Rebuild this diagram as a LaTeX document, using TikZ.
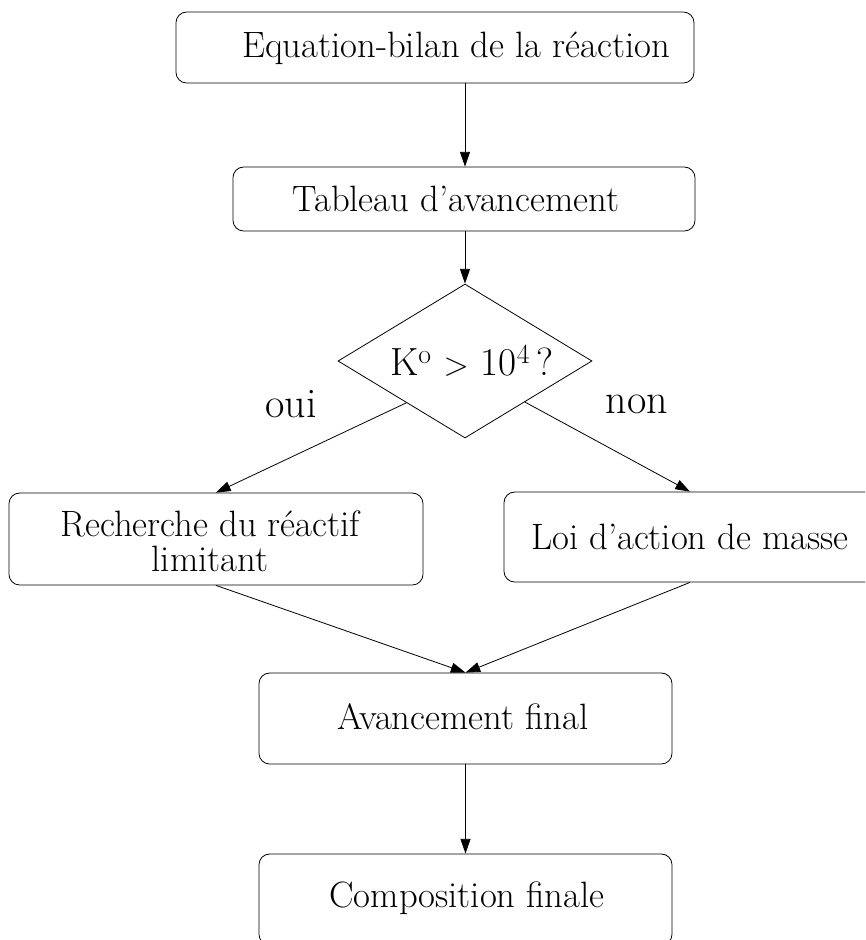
\documentclass[tikz,border=0pt]{standalone}
\usetikzlibrary{arrows.meta,shapes.geometric,calc}
\begin{document}
\begin{tikzpicture}[x=0.75pt,y=-0.75pt,
  boxshape/.style={draw,line width=0.6pt,rounded corners=8pt,inner sep=0pt},
  txt/.style={font=\fontsize{27.5}{26}\selectfont,align=center,inner sep=0pt},
  lbl/.style={font=\fontsize{31.5}{32}\selectfont,inner sep=0pt},
  arr/.style={line width=0.6pt,-{Triangle[length=11pt,width=7.5pt]}}]
\useasboundingbox (0,0) rectangle (865,940);
\clip (0,0) rectangle (865,940);
% boxes
\node[boxshape,minimum width=388.5pt,minimum height=53.25pt] (b1) at (435,47.5) {};
\node[boxshape,minimum width=346.5pt,minimum height=48pt] (b2) at (464,199) {};
\node[draw,line width=0.6pt,diamond,minimum width=190.5pt,minimum height=115.5pt,inner sep=0pt] (dia) at (465,361) {};
\node[boxshape,minimum width=310.5pt,minimum height=69pt] (b3) at (216,539) {};
\node[boxshape,minimum width=279pt,minimum height=67.5pt] (b4) at (690,537) {};
\node[boxshape,minimum width=309.75pt,minimum height=68.25pt] (b5) at (465.5,718.5) {};
\node[boxshape,minimum width=309.75pt,minimum height=68.25pt] (b6) at (465.5,899.5) {};
% texts
\node[txt] (t1) at (456,48) {Equation-bilan de la réaction};
\node[txt] (t2) at (456,199) {Tableau d'avancement};
\node[txt] (t3) at (210,541) {Recherche du réactif\\limitant};
\node[txt] (t4) at (690,537) {Loi d'action de masse};
\node[txt] (t5) at (463,717) {Avancement final};
\node[txt] (t6) at (467,898) {Composition finale};
\node[txt,font=\fontsize{29.5}{30}\selectfont] (td) at (472,361) {K$^{\mathrm{o}}$ $>$ 10$^{4}$\,?};
\node[lbl] (oui) at (291,404) {oui};
\node[lbl] (non) at (637,404) {non};
% connectors
\coordinate (dl) at ($(dia.west)!0.54!(dia.south)$);
\coordinate (dr) at ($(dia.east)!0.53!(dia.south)$);
\draw[arr] (b1.south -| dia.north) -- (b2.north -| dia.north);
\draw[arr] (b2.south -| dia.north) -- (dia.north);
\draw[arr] (dl) -- (b3.north);
\draw[arr] (dr) -- (b4.north);
\draw[arr] (b3.south) -- (b5.north);
\draw[arr] (b4.south) -- (b5.north);
\draw[arr] (b5.south) -- (b6.north);
\end{tikzpicture}
\end{document}
